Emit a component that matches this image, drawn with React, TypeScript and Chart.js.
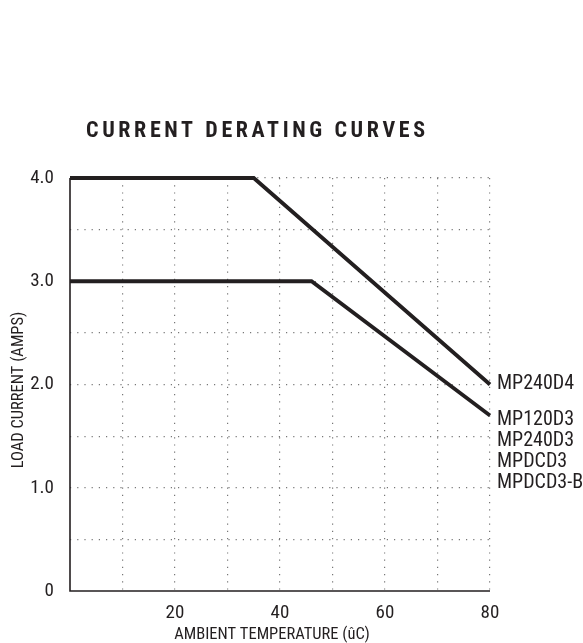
import React, { useEffect, useRef } from "react";
import { Chart, registerables } from "chart.js";

Chart.register(...registerables);

const TITLE = "CURRENT DERATING CURVES";
const X_TITLE = "AMBIENT TEMPERATURE (ûC)";
const Y_TITLE = "LOAD CURRENT (AMPS)";

const upperX = [0, 35, 80];
const upperY = [4.0, 4.0, 2.0];
const lowerX = [0, 46, 80];
const lowerY = [3.0, 3.0, 1.7];

const upperLabels = ["MP240D4"];
const lowerLabels = ["MP120D3", "MP240D3", "MPDCD3", "MPDCD3-B"];

const FONT = "'Roboto Condensed', 'DejaVu Sans Condensed', sans-serif";
const INK = "#231f20";
const GRID = "#777";

const overlayPlugin = {
  id: "overlayText",
  afterDraw(chart: any) {
    const ctx = chart.ctx;
    const xs = chart.scales.x;
    const ys = chart.scales.y;
    const area = chart.chartArea;
    ctx.save();
    // axis lines
    ctx.strokeStyle = INK;
    ctx.lineWidth = 1.6;
    ctx.setLineDash([]);
    ctx.beginPath();
    ctx.moveTo(area.left, area.top);
    ctx.lineTo(area.left, area.bottom);
    ctx.lineTo(area.right, area.bottom);
    ctx.stroke();

    // title with letter spacing
    ctx.font = `bold 22px ${FONT}`;
    ctx.fillStyle = INK;
    ctx.textAlign = "left";
    ctx.textBaseline = "middle";
    const plain = ctx.measureText(TITLE).width;
    const targetW = 339;
    const sp = (targetW - plain) / (TITLE.length - 1);
    (ctx as any).letterSpacing = `${sp}px`;
    ctx.fillText(TITLE, 86, 131);
    (ctx as any).letterSpacing = "0px";

    ctx.font = `20px ${FONT}`;
    ctx.textAlign = "left";
    const ux = xs.getPixelForValue(upperX[upperX.length - 1]);
    const uy = ys.getPixelForValue(upperY[upperY.length - 1]);
    upperLabels.forEach((t, i) => ctx.fillText(t, ux + 7, uy - 1 + i * 21));
    const lx = xs.getPixelForValue(lowerX[lowerX.length - 1]);
    const ly = ys.getPixelForValue(lowerY[lowerY.length - 1]);
    lowerLabels.forEach((t, i) => ctx.fillText(t, lx + 7, ly + 5 + i * 20.8));

    // axis titles
    ctx.font = `16.5px ${FONT}`;
    ctx.textAlign = "center";
    ctx.fillText(X_TITLE, 272, 635);
    ctx.translate(19, 390);
    ctx.rotate(-Math.PI / 2);
    ctx.fillText(Y_TITLE, 0, 0);
    ctx.restore();
  },
};

export default function App() {
  const ref = useRef<HTMLCanvasElement>(null);
  useEffect(() => {
    document.body.style.margin = "0";
    const toPts = (xs: number[], ys: number[]) => xs.map((x, i) => ({ x, y: ys[i] }));
    const chart = new Chart(ref.current!, {
      type: "line",
      data: {
        datasets: [
          {
            data: toPts(upperX, upperY),
            borderColor: INK,
            borderWidth: 3.8,
            pointRadius: 0,
            clip: false as any,
            tension: 0,
          },
          {
            data: toPts(lowerX, lowerY),
            borderColor: INK,
            borderWidth: 3.8,
            pointRadius: 0,
            clip: false as any,
            tension: 0,
          },
        ],
      },
      options: {
        animation: false,
        responsive: false,
        maintainAspectRatio: false,
        layout: { padding: { top: 178, right: 93, left: 0, bottom: 0 } },
        plugins: {
          legend: { display: false },
          tooltip: { enabled: false },
          title: { display: false },
        },
        scales: {
          x: {
            type: "linear",
            min: 0,
            max: 80,
            afterFit: (s: any) => {
              s.height = 52;
            },
            ticks: {
              stepSize: 10,
              autoSkip: false,
              maxRotation: 0,
              padding: 11,
              color: INK,
              font: { family: FONT, size: 19 },
              callback: (v: any) => (v > 0 && v % 20 === 0 ? String(v) : ""),
            },
            grid: {
              color: (c: any) => (c.tick && c.tick.value === 0 ? "rgba(0,0,0,0)" : GRID),
              lineWidth: 1.2,
              drawTicks: false,
            },
            border: { display: false, dash: [1.2, 6] },
          },
          y: {
            type: "linear",
            min: 0,
            max: 4,
            afterFit: (s: any) => {
              s.width = 70;
            },
            ticks: {
              stepSize: 0.5,
              autoSkip: false,
              padding: 16,
              color: INK,
              font: { family: FONT, size: 19 },
              callback: (v: any) => (v === 0 ? "0" : v % 1 === 0 ? Number(v).toFixed(1) : ""),
            },
            grid: {
              color: (c: any) => (c.tick && c.tick.value === 0 ? "rgba(0,0,0,0)" : GRID),
              lineWidth: 1.2,
              drawTicks: false,
            },
            border: { display: false, dash: [1.2, 6] },
          },
        },
      },
      plugins: [overlayPlugin],
    });
    return () => chart.destroy();
  }, []);
  return (
    <div style={{ position: "absolute", left: 0, top: 0, width: 583, height: 643 }}>
      <canvas ref={ref} width={583} height={643} style={{ width: 583, height: 643 }} />
    </div>
  );
}
